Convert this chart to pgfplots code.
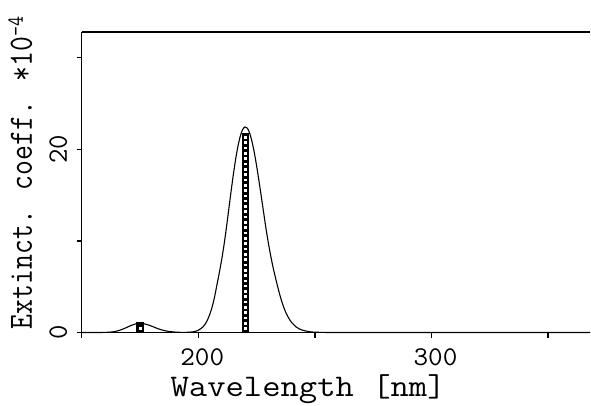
\documentclass[border=0pt]{standalone}
\usepackage{fontspec}
\usepackage{pgfplots}
\pgfplotsset{compat=1.18}
\begin{document}
\begin{tikzpicture}
\useasboundingbox (-81.7pt,-72.5pt) rectangle (509.3pt,332.5pt);
\begin{axis}[
  scale only axis, width=508.3pt, height=300.5pt,
  xmin=150, xmax=368, ymin=0, ymax=32.8,
  axis lines*=left,
  axis line style={-, line width=1.6pt, black},
  clip=false,
  xtick={150,200,250,300,350}, xticklabels={,\scalebox{1.05}[1]{200},,\scalebox{1.05}[1]{300},},
  ytick={0,10,20,30}, yticklabels={0,,20,},
  tick align=outside, major tick length=5pt,
  tick style={line width=1.3pt, black},
  /pgf/number format/assume math mode=true,
  xticklabel style={font=\ttfamily\fontsize{27}{27}\selectfont, anchor=base, yshift=-27.5pt, xshift=4pt},
  yticklabel style={font=\ttfamily\fontsize{28}{28}\selectfont, xshift=-9.7pt, rotate=90, anchor=base},
  xlabel={\scalebox{1.13}[1]{Wavelength [nm]}},
  xlabel style={font=\ttfamily\fontsize{31.5}{31.5}\selectfont, at={(axis description cs:0.4455,-0.2113)}, anchor=base},
  ylabel={\scalebox{0.85}[1]{Extinct. coeff. *10\raisebox{9pt}{\fontsize{23}{23}\selectfont -4}}},
  ylabel style={font=\ttfamily\fontsize{34}{34}\selectfont, at={(axis description cs:-0.0978,0.532)}, anchor=base},
]
\draw[line width=1.6pt] (rel axis cs:0,1) -- (rel axis cs:1,1);
% spectrum curve
\addplot[black, line width=1.1pt, smooth, tension=0.4] coordinates {
(150,0) (155,0) (160,0.01) (163,0.06) (165,0.15) (167,0.31) (169,0.52) (171,0.75)
(173,0.93) (175,1.0) (177,0.94) (179,0.79) (181,0.59) (183,0.39) (185,0.24) (187,0.13)
(189,0.07) (191,0.03) (194,0.01) (195,0.02) (198,0.08) (200,0.24) (202,0.61) (203,0.94)
(204,1.40) (205,2.03) (206,2.84) (207,3.90) (208,5.20) (209,6.5) (210,7.9) (211,9.5)
(212,11.31) (213,13.30) (214,15.28) (215,17.17) (216,18.88) (217,20.32) (218,21.42)
(219,22.14) (220,22.44) (221,22.32) (222,21.79) (223,20.89) (224,19.68) (225,18.22)
(226,16.60) (227,14.88) (228,13.14) (229,11.41) (230,9.85) (231,8.45) (232,7.2)
(233,6.1) (234,5.05) (235,4.09) (236,3.23) (237,2.52) (238,1.94) (239,1.48) (240,1.11)
(242,0.60) (244,0.32) (246,0.17) (248,0.08) (250,0.035) (255,0.004) (260,0) (300,0) (368,0)
};
% stick bars
\addplot[ycomb, black, line width=7.6pt, no markers] coordinates {(220.2,21.8)};
\addplot[ycomb, black, line width=8.5pt, no markers] coordinates {(175.1,1.1)};
\addplot[only marks, mark=square*, mark size=0.8pt, white] coordinates {
(220.2,0.45) (220.2,1.03) (220.2,1.61) (220.2,2.19) (220.2,2.77) (220.2,3.35) (220.2,3.93)
(220.2,4.51) (220.2,5.09) (220.2,5.67) (220.2,6.25) (220.2,6.83) (220.2,7.41) (220.2,7.99)
(220.2,8.57) (220.2,9.15) (220.2,9.73) (220.2,10.31) (220.2,10.89) (220.2,11.47) (220.2,12.05)
(220.2,12.63) (220.2,13.21) (220.2,13.79) (220.2,14.37) (220.2,14.95) (220.2,15.53) (220.2,16.11)
(220.2,16.69) (220.2,17.27) (220.2,17.85) (220.2,18.43) (220.2,19.01) (220.2,19.59) (220.2,20.17)
(220.2,20.75) (220.2,21.33)
};
\addplot[only marks, mark=square*, mark size=1.1pt, white] coordinates {(175.1,0.5)};
\end{axis}
\end{tikzpicture}
\end{document}
